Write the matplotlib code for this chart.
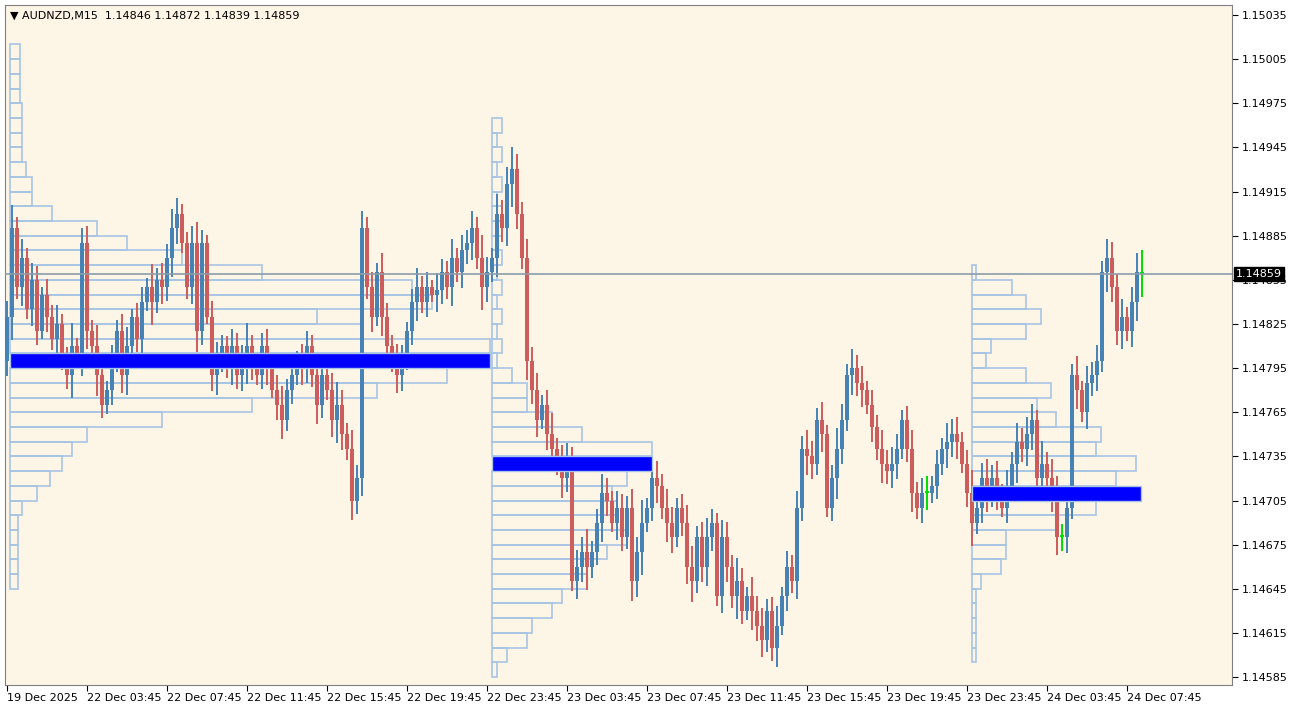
import matplotlib
matplotlib.use("Agg")
from matplotlib import pyplot as plt
import numpy as np

symbol = "AUDNZD,M15"
ohlc_text = "1.14846 1.14872 1.14839 1.14859"
last_price = 1.14859

# closes of the 228 M15 bars (open = previous close)
closes = [
    1.14830, 1.14890, 1.14850, 1.14870, 1.14835, 1.14855, 1.14820, 1.14845, 1.14830, 1.14815,
    1.14825, 1.14800, 1.14790, 1.14810, 1.14800, 1.14880, 1.14820, 1.14810, 1.14790, 1.14770,
    1.14780, 1.14800, 1.14820, 1.14790, 1.14810, 1.14830, 1.14815, 1.14840, 1.14850, 1.14840,
    1.14855, 1.14850, 1.14870, 1.14890, 1.14900, 1.14880, 1.14850, 1.14880, 1.14820, 1.14880,
    1.14830, 1.14790, 1.14800, 1.14810, 1.14795, 1.14810, 1.14790, 1.14800, 1.14810, 1.14795,
    1.14790, 1.14810, 1.14795, 1.14780, 1.14770, 1.14760, 1.14780, 1.14790, 1.14800, 1.14795,
    1.14810, 1.14790, 1.14770, 1.14790, 1.14780, 1.14760, 1.14770, 1.14750, 1.14740, 1.14705,
    1.14720, 1.14890, 1.14850, 1.14830, 1.14860, 1.14830, 1.14810, 1.14800, 1.14790, 1.14800,
    1.14820, 1.14840, 1.14850, 1.14840, 1.14850, 1.14845, 1.14848, 1.14860, 1.14850, 1.14870,
    1.14860, 1.14875, 1.14880, 1.14890, 1.14870, 1.14850, 1.14860, 1.14870, 1.14900, 1.14890,
    1.14920, 1.14930, 1.14900, 1.14870, 1.14800, 1.14780, 1.14760, 1.14770, 1.14750, 1.14740,
    1.14730, 1.14720, 1.14735, 1.14650, 1.14660, 1.14670, 1.14660, 1.14670, 1.14690, 1.14710,
    1.14705, 1.14690, 1.14700, 1.14680, 1.14700, 1.14650, 1.14670, 1.14690, 1.14700, 1.14720,
    1.14715, 1.14700, 1.14690, 1.14680, 1.14700, 1.14690, 1.14660, 1.14650, 1.14680, 1.14660,
    1.14680, 1.14690, 1.14640, 1.14680, 1.14660, 1.14640, 1.14650, 1.14630, 1.14640, 1.14630,
    1.14620, 1.14610, 1.14630, 1.14605, 1.14620, 1.14640, 1.14660, 1.14650, 1.14700, 1.14740,
    1.14735, 1.14730, 1.14760, 1.14750, 1.14700, 1.14720, 1.14740, 1.14760, 1.14790, 1.14795,
    1.14785, 1.14780, 1.14770, 1.14755, 1.14740, 1.14730, 1.14725, 1.14730, 1.14740, 1.14760,
    1.14740, 1.14710, 1.14700, 1.14710, 1.14710, 1.14715, 1.14730, 1.14740, 1.14745, 1.14750,
    1.14745, 1.14730, 1.14710, 1.14690, 1.14700, 1.14720, 1.14710, 1.14720, 1.14710, 1.14700,
    1.14715, 1.14730, 1.14745, 1.14740, 1.14750, 1.14760, 1.14720, 1.14730, 1.14720, 1.14710,
    1.14680, 1.14680, 1.14700, 1.14790, 1.14780, 1.14765, 1.14785, 1.14790, 1.14800, 1.14860,
    1.14870, 1.14850, 1.14820, 1.14830, 1.14820, 1.14840, 1.14860, 1.14859,
]
first_open = 1.14800

# wick length in points (1 point = 0.00001), per bar
wick_pts = [
    8, 12, 6, 10, 5, 9, 7, 4, 8, 6, 10, 5, 7, 12, 4, 8, 9, 6, 11, 7,
    5, 8, 6, 9, 10, 4, 7, 8, 5, 12, 6, 9, 7, 10, 8, 5, 6, 9, 11, 7,
    4, 8, 10, 6, 5, 9, 7, 8, 12, 6, 5, 7, 9, 4, 8, 10, 6, 7, 5, 9,
    8, 6, 10, 7, 5, 9, 12, 8, 6, 10, 7, 9, 6, 8, 5, 10, 7, 6, 9, 8,
    5, 7, 10, 6, 8, 4, 9, 7, 6, 10, 5, 8, 7, 9, 6, 12, 8, 5, 10, 7,
    9, 12, 8, 6, 10, 7, 9, 5, 8, 11, 6, 10, 7, 5, 9, 8, 12, 6, 7, 10,
    8, 5, 9, 7, 6, 10, 8, 12, 5, 7, 9, 6, 10, 8, 5, 7, 9, 11, 6, 8,
    10, 7, 5, 9, 8, 6, 12, 7, 5, 10, 8, 9, 6, 7, 10, 5, 8, 6, 9, 7,
    10, 8, 6, 9, 5, 7, 11, 8, 6, 10, 7, 9, 5, 8, 6, 10, 7, 9, 8, 5,
    7, 10, 6, 8, 9, 5, 7, 6, 10, 8, 9, 5, 7, 12, 6, 8, 10, 7, 9, 5,
    8, 6, 10, 7, 9, 8, 5, 12, 6, 10, 9, 7, 8, 6, 10, 5, 9, 7, 8, 6,
    10, 8, 7, 9, 5, 8, 10, 12,
]

# volume profiles: start bar, price bins (top down), widths in bar units, POC price
p1_start = 0.6
p1_prices = [round(1.1501 - 0.0001 * k, 4) for k in range(37)]
p1_widths = [2, 2, 2, 2, 2.4, 2.4, 2.4, 2.4, 3.2, 4.4, 4.4, 8.4, 17.4, 23.4, 34.4,
             50.4, 80.4, 84.4, 61.4, 70.4, 96, 96, 87.4, 73.4, 48.4, 30.4, 15.4,
             12.4, 10.4, 8, 5.4, 2.4, 1.6, 1.6, 1.6, 1.6, 1.6]
p1_poc = 1.1480

p2_start = 97
p2_prices = [round(1.1496 - 0.0001 * k, 4) for k in range(38)]
p2_widths = [2, 1, 2, 1, 2, 1, 2, 2, 1, 2, 1, 2, 1, 2, 1, 2, 1,
             4, 7, 7, 12, 18, 32, 32, 27, 24, 25, 25, 27, 23, 19, 19, 14, 12, 8, 7, 3, 1]
p2_poc = 1.1473

p3_start = 193
p3_prices = [round(1.1486 - 0.0001 * k, 4) for k in range(27)]
p3_widths = [0.8, 8, 10.8, 13.8, 10.8, 3.8, 2.8, 10.8, 15.8, 13, 16.8, 25.8, 24.8,
             32.8, 28.8, 33.8, 24.8, 16.8, 6.8, 6.8, 5.8, 1.8, 0.8, 0.8, 0.8, 0.8, 0.8]
p3_poc = 1.1471

tick_bars = [0, 16, 32, 48, 64, 80, 96, 112, 128, 144, 160, 176, 192, 208, 224]
tick_labels = ["19 Dec 2025", "22 Dec 03:45", "22 Dec 07:45", "22 Dec 11:45",
               "22 Dec 15:45", "22 Dec 19:45", "22 Dec 23:45", "23 Dec 03:45",
               "23 Dec 07:45", "23 Dec 11:45", "23 Dec 15:45", "23 Dec 19:45",
               "23 Dec 23:45", "24 Dec 03:45", "24 Dec 07:45"]

bg = "#FDF5E6"
bull = "#4682B4"
bear = "#CD5C5C"
prof_edge = "#A7C4E4"

fig = plt.figure(figsize=(12.94, 7.13), dpi=100, facecolor="white")
ax = fig.add_axes([5 / 1294, 28 / 713, 1227 / 1294, 680 / 713])
ax.set_facecolor(bg)

# profiles
for start, prices, widths, poc in [(p1_start, p1_prices, p1_widths, p1_poc),
                                   (p2_start, p2_prices, p2_widths, p2_poc),
                                   (p3_start, p3_prices, p3_widths, p3_poc)]:
    for p, w in zip(prices, widths):
        if abs(p - poc) < 1e-6:
            ax.barh(p, w, height=0.0001, left=start, color="#0000FF",
                    edgecolor=prof_edge, linewidth=1, zorder=4)
        else:
            ax.barh(p, w, height=0.0001, left=start, facecolor="none",
                    edgecolor=prof_edge, linewidth=1.2, zorder=2)

# candles
opens = [first_open] + closes[:-1]
x = np.arange(len(closes))
for i in x:
    o, c = opens[i], closes[i]
    w = wick_pts[i] * 0.000013
    hi, lo = max(o, c) + w, min(o, c) - w
    if abs(c - o) < 0.00002:
        col = "#00DD00"
    else:
        col = bull if c > o else bear
    ax.vlines(i, lo, hi, color=col, linewidth=1.4, zorder=3)
    ax.bar(i, max(abs(c - o), 0.000015), bottom=min(o, c), width=0.8,
           color=col, zorder=3)

ax.axhline(last_price, color="#8C9BAA", linewidth=1.2, zorder=5)

ax.set_xlim(-0.4, 245)
ax.set_ylim(1.145796, 1.150418)

ax.yaxis.tick_right()
yt = [1.14585 + 0.0003 * k for k in range(16)]
ax.set_yticks(yt)
ax.set_yticklabels([f"{v:.5f}" for v in yt], fontsize=8)
ax.set_xticks(tick_bars)
ax.set_xticklabels(tick_labels, fontsize=8, ha="left")
ax.tick_params(axis="x", length=4, pad=2)
ax.tick_params(axis="y", length=4, pad=3)
for s in ax.spines.values():
    s.set_color("#808080")

ax.text(1.003, (last_price - 1.145796) / (1.150418 - 1.145796), f"{last_price:.5f}",
        transform=ax.transAxes, fontsize=8, color="white", va="center", ha="left",
        bbox=dict(facecolor="black", edgecolor="black", pad=1.5), zorder=6, clip_on=False)

ax.text(0.004, 0.984, "\u25BC " + symbol + "  " + ohlc_text, transform=ax.transAxes,
        fontsize=8, va="center", ha="left")

fig.savefig("out.png", dpi=100, facecolor="white")
